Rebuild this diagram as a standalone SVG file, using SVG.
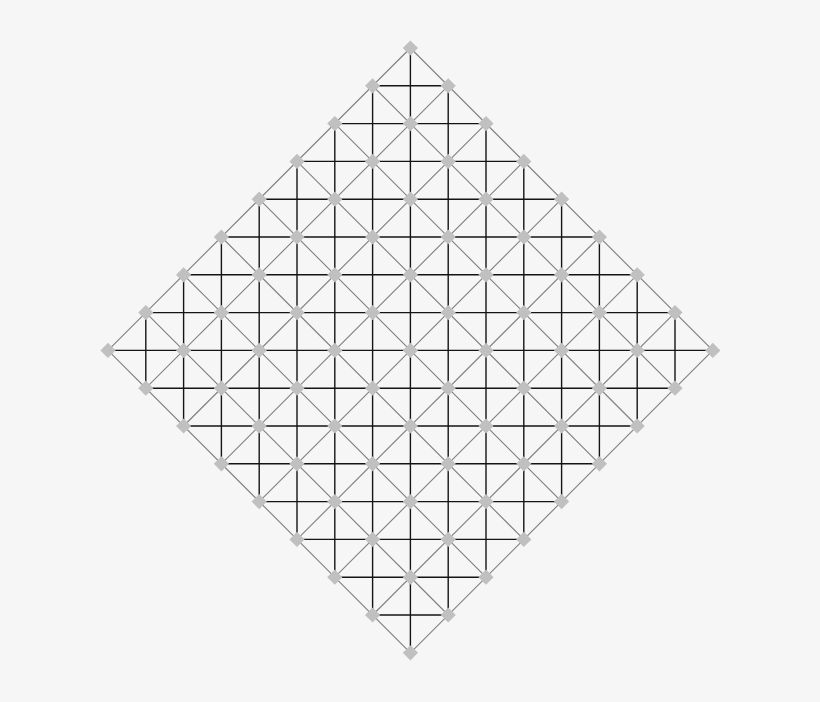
<svg xmlns="http://www.w3.org/2000/svg" xmlns:xlink="http://www.w3.org/1999/xlink" width="820" height="702" viewBox="0 0 820 702">
<style>
.bg{fill:#f6f6f6}
.diag line{stroke:#7e7e7e;stroke-width:1.1;fill:none}
.ortho line{stroke:#141414;stroke-width:1.4;fill:none}
.node use{fill:#c0c0c0}
</style>
<defs>
<path id="d" d="M0,-7.6 L7.6,0 L0,7.6 L-7.6,0Z"/>
</defs>
<rect class="bg" x="0" y="0" width="820" height="702"/>
<g transform="translate(0.4 0.4)">
<g id="connectors">
<g class="diag">
<line x1="410" y1="47.6" x2="712.4" y2="350"/>
<line x1="372.2" y1="85.4" x2="674.6" y2="387.8"/>
<line x1="334.4" y1="123.2" x2="636.8" y2="425.6"/>
<line x1="296.6" y1="161" x2="599" y2="463.4"/>
<line x1="258.8" y1="198.8" x2="561.2" y2="501.2"/>
<line x1="221" y1="236.6" x2="523.4" y2="539"/>
<line x1="183.2" y1="274.4" x2="485.6" y2="576.8"/>
<line x1="145.4" y1="312.2" x2="447.8" y2="614.6"/>
<line x1="107.6" y1="350" x2="410" y2="652.4"/>
<line x1="410" y1="652.4" x2="712.4" y2="350"/>
<line x1="372.2" y1="614.6" x2="674.6" y2="312.2"/>
<line x1="334.4" y1="576.8" x2="636.8" y2="274.4"/>
<line x1="296.6" y1="539" x2="599" y2="236.6"/>
<line x1="258.8" y1="501.2" x2="561.2" y2="198.8"/>
<line x1="221" y1="463.4" x2="523.4" y2="161"/>
<line x1="183.2" y1="425.6" x2="485.6" y2="123.2"/>
<line x1="145.4" y1="387.8" x2="447.8" y2="85.4"/>
<line x1="107.6" y1="350" x2="410" y2="47.6"/>
</g>
<g class="ortho">
<line x1="372.2" y1="85.4" x2="447.8" y2="85.4"/>
<line x1="334.4" y1="123.2" x2="485.6" y2="123.2"/>
<line x1="296.6" y1="161" x2="523.4" y2="161"/>
<line x1="258.8" y1="198.8" x2="561.2" y2="198.8"/>
<line x1="221" y1="236.6" x2="599" y2="236.6"/>
<line x1="183.2" y1="274.4" x2="636.8" y2="274.4"/>
<line x1="145.4" y1="312.2" x2="674.6" y2="312.2"/>
<line x1="107.6" y1="350" x2="712.4" y2="350"/>
<line x1="145.4" y1="387.8" x2="674.6" y2="387.8"/>
<line x1="183.2" y1="425.6" x2="636.8" y2="425.6"/>
<line x1="221" y1="463.4" x2="599" y2="463.4"/>
<line x1="258.8" y1="501.2" x2="561.2" y2="501.2"/>
<line x1="296.6" y1="539" x2="523.4" y2="539"/>
<line x1="334.4" y1="576.8" x2="485.6" y2="576.8"/>
<line x1="372.2" y1="614.6" x2="447.8" y2="614.6"/>
<line x1="145.4" y1="312.2" x2="145.4" y2="387.8"/>
<line x1="183.2" y1="274.4" x2="183.2" y2="425.6"/>
<line x1="221" y1="236.6" x2="221" y2="463.4"/>
<line x1="258.8" y1="198.8" x2="258.8" y2="501.2"/>
<line x1="296.6" y1="161" x2="296.6" y2="539"/>
<line x1="334.4" y1="123.2" x2="334.4" y2="576.8"/>
<line x1="372.2" y1="85.4" x2="372.2" y2="614.6"/>
<line x1="410" y1="47.6" x2="410" y2="652.4"/>
<line x1="447.8" y1="85.4" x2="447.8" y2="614.6"/>
<line x1="485.6" y1="123.2" x2="485.6" y2="576.8"/>
<line x1="523.4" y1="161" x2="523.4" y2="539"/>
<line x1="561.2" y1="198.8" x2="561.2" y2="501.2"/>
<line x1="599" y1="236.6" x2="599" y2="463.4"/>
<line x1="636.8" y1="274.4" x2="636.8" y2="425.6"/>
<line x1="674.6" y1="312.2" x2="674.6" y2="387.8"/>
</g>
</g>
<g id="nodes" class="node">
<g id="n-8_0"><use href="#d" x="410" y="47.6"/></g>
<g id="n-7_-1"><use href="#d" x="372.2" y="85.4"/></g>
<g id="n-7_1"><use href="#d" x="447.8" y="85.4"/></g>
<g id="n-6_-2"><use href="#d" x="334.4" y="123.2"/></g>
<g id="n-6_0"><use href="#d" x="410" y="123.2"/></g>
<g id="n-6_2"><use href="#d" x="485.6" y="123.2"/></g>
<g id="n-5_-3"><use href="#d" x="296.6" y="161"/></g>
<g id="n-5_-1"><use href="#d" x="372.2" y="161"/></g>
<g id="n-5_1"><use href="#d" x="447.8" y="161"/></g>
<g id="n-5_3"><use href="#d" x="523.4" y="161"/></g>
<g id="n-4_-4"><use href="#d" x="258.8" y="198.8"/></g>
<g id="n-4_-2"><use href="#d" x="334.4" y="198.8"/></g>
<g id="n-4_0"><use href="#d" x="410" y="198.8"/></g>
<g id="n-4_2"><use href="#d" x="485.6" y="198.8"/></g>
<g id="n-4_4"><use href="#d" x="561.2" y="198.8"/></g>
<g id="n-3_-5"><use href="#d" x="221" y="236.6"/></g>
<g id="n-3_-3"><use href="#d" x="296.6" y="236.6"/></g>
<g id="n-3_-1"><use href="#d" x="372.2" y="236.6"/></g>
<g id="n-3_1"><use href="#d" x="447.8" y="236.6"/></g>
<g id="n-3_3"><use href="#d" x="523.4" y="236.6"/></g>
<g id="n-3_5"><use href="#d" x="599" y="236.6"/></g>
<g id="n-2_-6"><use href="#d" x="183.2" y="274.4"/></g>
<g id="n-2_-4"><use href="#d" x="258.8" y="274.4"/></g>
<g id="n-2_-2"><use href="#d" x="334.4" y="274.4"/></g>
<g id="n-2_0"><use href="#d" x="410" y="274.4"/></g>
<g id="n-2_2"><use href="#d" x="485.6" y="274.4"/></g>
<g id="n-2_4"><use href="#d" x="561.2" y="274.4"/></g>
<g id="n-2_6"><use href="#d" x="636.8" y="274.4"/></g>
<g id="n-1_-7"><use href="#d" x="145.4" y="312.2"/></g>
<g id="n-1_-5"><use href="#d" x="221" y="312.2"/></g>
<g id="n-1_-3"><use href="#d" x="296.6" y="312.2"/></g>
<g id="n-1_-1"><use href="#d" x="372.2" y="312.2"/></g>
<g id="n-1_1"><use href="#d" x="447.8" y="312.2"/></g>
<g id="n-1_3"><use href="#d" x="523.4" y="312.2"/></g>
<g id="n-1_5"><use href="#d" x="599" y="312.2"/></g>
<g id="n-1_7"><use href="#d" x="674.6" y="312.2"/></g>
<g id="n0_-8"><use href="#d" x="107.6" y="350"/></g>
<g id="n0_-6"><use href="#d" x="183.2" y="350"/></g>
<g id="n0_-4"><use href="#d" x="258.8" y="350"/></g>
<g id="n0_-2"><use href="#d" x="334.4" y="350"/></g>
<g id="n0_0"><use href="#d" x="410" y="350"/></g>
<g id="n0_2"><use href="#d" x="485.6" y="350"/></g>
<g id="n0_4"><use href="#d" x="561.2" y="350"/></g>
<g id="n0_6"><use href="#d" x="636.8" y="350"/></g>
<g id="n0_8"><use href="#d" x="712.4" y="350"/></g>
<g id="n1_-7"><use href="#d" x="145.4" y="387.8"/></g>
<g id="n1_-5"><use href="#d" x="221" y="387.8"/></g>
<g id="n1_-3"><use href="#d" x="296.6" y="387.8"/></g>
<g id="n1_-1"><use href="#d" x="372.2" y="387.8"/></g>
<g id="n1_1"><use href="#d" x="447.8" y="387.8"/></g>
<g id="n1_3"><use href="#d" x="523.4" y="387.8"/></g>
<g id="n1_5"><use href="#d" x="599" y="387.8"/></g>
<g id="n1_7"><use href="#d" x="674.6" y="387.8"/></g>
<g id="n2_-6"><use href="#d" x="183.2" y="425.6"/></g>
<g id="n2_-4"><use href="#d" x="258.8" y="425.6"/></g>
<g id="n2_-2"><use href="#d" x="334.4" y="425.6"/></g>
<g id="n2_0"><use href="#d" x="410" y="425.6"/></g>
<g id="n2_2"><use href="#d" x="485.6" y="425.6"/></g>
<g id="n2_4"><use href="#d" x="561.2" y="425.6"/></g>
<g id="n2_6"><use href="#d" x="636.8" y="425.6"/></g>
<g id="n3_-5"><use href="#d" x="221" y="463.4"/></g>
<g id="n3_-3"><use href="#d" x="296.6" y="463.4"/></g>
<g id="n3_-1"><use href="#d" x="372.2" y="463.4"/></g>
<g id="n3_1"><use href="#d" x="447.8" y="463.4"/></g>
<g id="n3_3"><use href="#d" x="523.4" y="463.4"/></g>
<g id="n3_5"><use href="#d" x="599" y="463.4"/></g>
<g id="n4_-4"><use href="#d" x="258.8" y="501.2"/></g>
<g id="n4_-2"><use href="#d" x="334.4" y="501.2"/></g>
<g id="n4_0"><use href="#d" x="410" y="501.2"/></g>
<g id="n4_2"><use href="#d" x="485.6" y="501.2"/></g>
<g id="n4_4"><use href="#d" x="561.2" y="501.2"/></g>
<g id="n5_-3"><use href="#d" x="296.6" y="539"/></g>
<g id="n5_-1"><use href="#d" x="372.2" y="539"/></g>
<g id="n5_1"><use href="#d" x="447.8" y="539"/></g>
<g id="n5_3"><use href="#d" x="523.4" y="539"/></g>
<g id="n6_-2"><use href="#d" x="334.4" y="576.8"/></g>
<g id="n6_0"><use href="#d" x="410" y="576.8"/></g>
<g id="n6_2"><use href="#d" x="485.6" y="576.8"/></g>
<g id="n7_-1"><use href="#d" x="372.2" y="614.6"/></g>
<g id="n7_1"><use href="#d" x="447.8" y="614.6"/></g>
<g id="n8_0"><use href="#d" x="410" y="652.4"/></g>
</g>
</g>
</svg>
